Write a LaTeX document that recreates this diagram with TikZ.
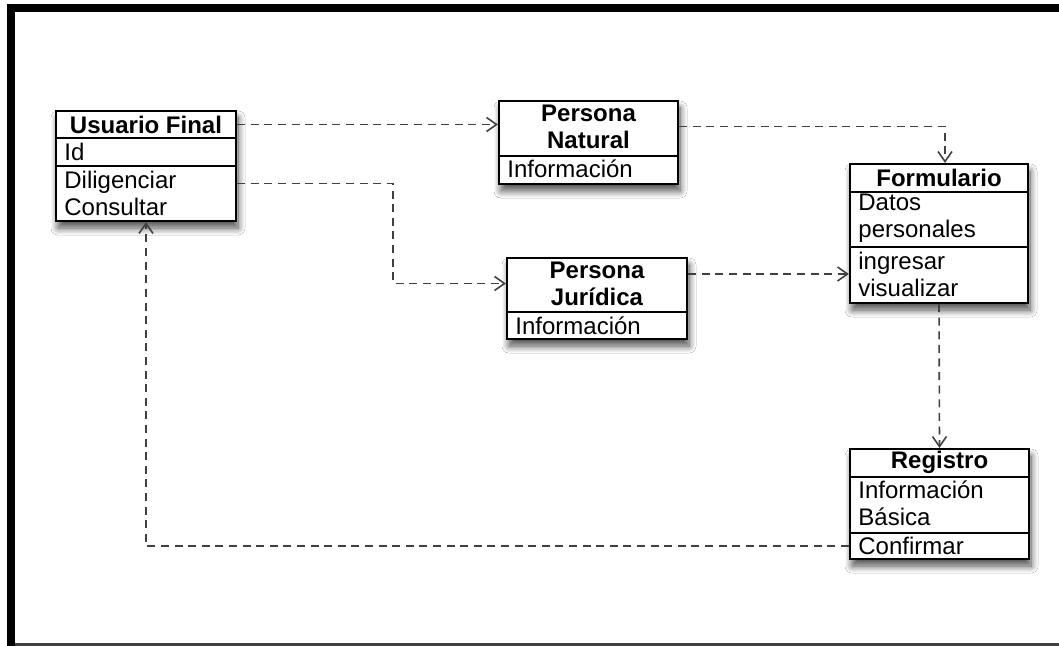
\documentclass[tikz,border=0pt]{standalone}
\usepackage{fontspec}
\setmainfont{Liberation Sans}
\usetikzlibrary{arrows.meta,shadows.blur}

\begin{document}
\begin{tikzpicture}[x=0.5pt,y=-0.5pt,
  font=\fontsize{12}{13.5}\selectfont,
  classbox/.style={draw=black, line width=1.1pt, fill=white, inner sep=0pt,
    blur shadow={shadow xshift=1pt, shadow yshift=-3.5pt, shadow blur radius=3.5pt,
      shadow blur steps=10, shadow opacity=70}},
  divider/.style={draw=black, line width=0.8pt},
  ctitle/.style={inner sep=0pt, align=center, font=\fontsize{12}{13.5}\selectfont\bfseries},
  citem/.style={inner sep=0pt, anchor=west, align=left},
  dep/.style={draw=black!75, line width=0.8pt, dash pattern=on 4pt off 2.8pt,
    -{Straight Barb[length=5pt,width=7pt,line width=0.8pt]}}
]
\useasboundingbox (0,0) rectangle (1059,646);
\fill[white] (0,0) rectangle (1059,646);

% outer frame
\fill[black] (7,4) rectangle (1059,12);
\fill[black] (7,4) rectangle (15,646);
\fill[black!75] (15,642.5) rectangle (1059,646);

% class boxes
\node[classbox, minimum width=90pt, minimum height=55pt] (uf) at (146,166) {};
\node[classbox, minimum width=89.5pt, minimum height=41.5pt] (pn) at (588.5,142.5) {};
\node[classbox, minimum width=90pt, minimum height=40.5pt] (pj) at (597,298.5) {};
\node[classbox, minimum width=89pt, minimum height=69.5pt] (fo) at (939,233.5) {};
\node[classbox, minimum width=89.5pt, minimum height=55pt] (rg) at (939.5,504) {};

% compartment separators
\draw[divider] (uf.west |- 0,138) -- (uf.east |- 0,138);
\draw[divider] (uf.west |- 0,166) -- (uf.east |- 0,166);
\draw[divider] (pn.west |- 0,156) -- (pn.east |- 0,156);
\draw[divider] (pj.west |- 0,312) -- (pj.east |- 0,312);
\draw[divider] (fo.west |- 0,192) -- (fo.east |- 0,192);
\draw[divider] (fo.west |- 0,247) -- (fo.east |- 0,247);
\draw[divider] (rg.west |- 0,477) -- (rg.east |- 0,477);
\draw[divider] (rg.west |- 0,533) -- (rg.east |- 0,533);

% Usuario Final
\node[ctitle] (uf-t) at (146,124.5) {Usuario Final};
\node[citem] (uf-a) at (64,152) {Id};
\node[citem] (uf-m) at (64,193.5) {Diligenciar\\Consultar};

% Persona Natural
\node[ctitle] (pn-t) at (588.5,126.5) {Persona\\Natural};
\node[citem] (pn-a) at (507,168.5) {Información};

% Persona Jurídica
\node[ctitle] (pj-t) at (597,283.5) {Persona\\Jurídica};
\node[citem] (pj-a) at (515,325.5) {Información};

% Formulario
\node[ctitle] (fo-t) at (939,177.5) {Formulario};
\node[citem] (fo-a) at (858,218) {Datos\\personales};
\node[citem] (fo-m) at (858,274) {ingresar\\visualizar};

% Registro
\node[ctitle] (rg-t) at (939.5,462.5) {Registro};
\node[citem] (rg-a) at (858,503) {Información\\Básica};
\node[citem] (rg-c) at (858,546) {Confirmar};

% dependencies
\draw[dep] (uf-t -| uf.east) -- (uf-t -| pn.west);
\draw[dep] (uf-m -| uf.east) ++(0,-10) -- ++(156,0) |- (pj-t -| pj.west);
\draw[dep] (pn-t -| pn.east) -| ([xshift=3pt]fo.north);
\draw[dep] (fo-m -| pj.east) -- (fo-m -| fo.west);
\draw[dep] (fo.south) -- (rg.north);
\draw[dep] (rg-c -| rg.west) -| (uf.south);
\end{tikzpicture}
\end{document}
